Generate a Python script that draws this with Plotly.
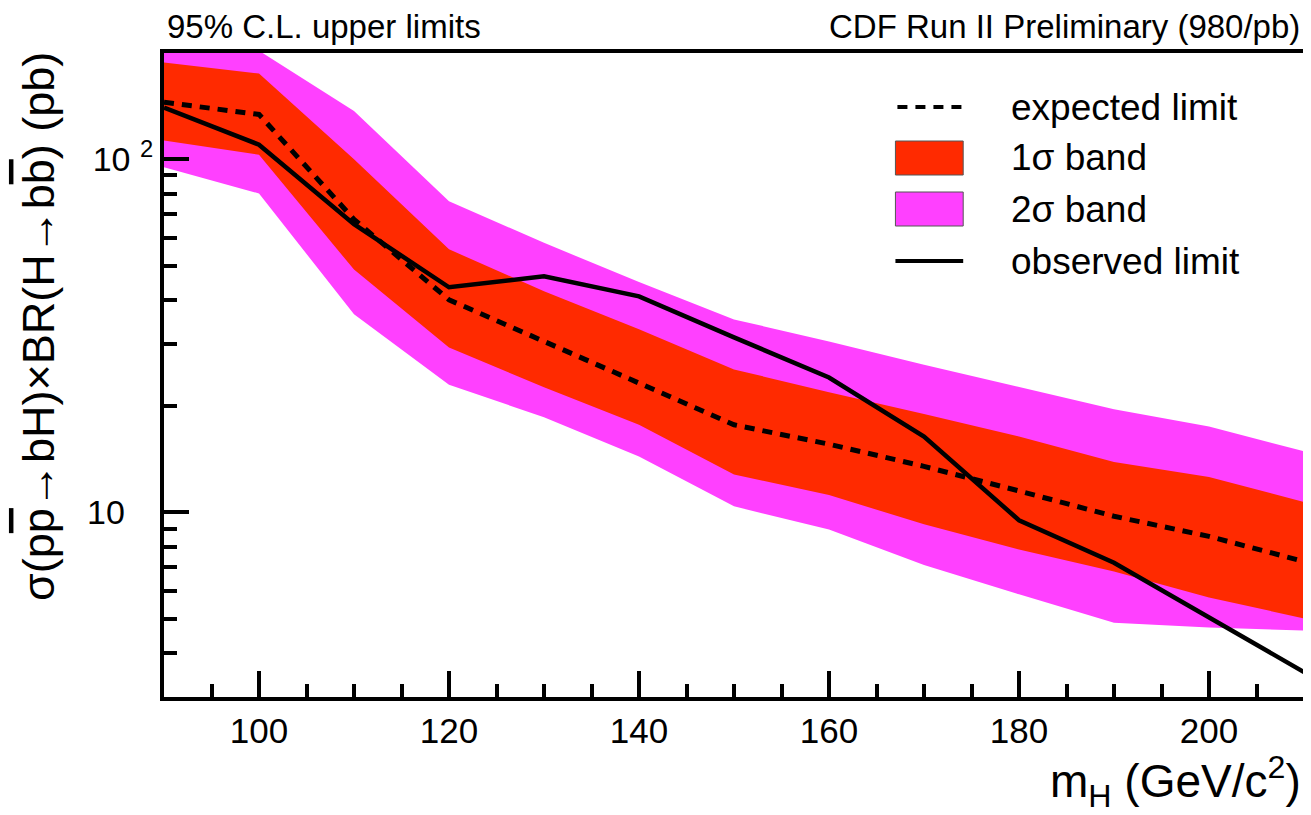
import plotly.graph_objects as go

# ---- data ----
mass = [90, 100, 110, 120, 130, 140, 150, 160, 170, 180, 190, 200, 210]
observed = [140, 110, 65.5, 43.4, 46.6, 40.9, 31.3, 24.1, 16.4, 9.5, 7.2, 5.05, 3.53]
expected = [145, 134, 67.6, 40.0, 30.5, 23.3, 17.7, 15.6, 13.5, 11.5, 9.75, 8.55, 7.26]
sig1_hi = [188, 175, 100, 55.6, 42.3, 33.0, 25.4, 21.9, 19.0, 16.4, 13.9, 12.6, 10.7]
sig1_lo = [113, 103, 48.7, 29.3, 22.6, 17.7, 12.8, 11.2, 9.25, 7.85, 6.8, 5.74, 5.01]
sig2_hi = [215, 203, 137, 76, 58, 44.9, 35.2, 30.5, 26.2, 22.7, 19.6, 17.5, 14.9]
sig2_lo = [95, 80, 36.4, 23.0, 18.6, 14.4, 10.4, 8.95, 7.1, 5.86, 4.87, 4.72, 4.63]

y_tickvals = [10, 100]
y_ticktext = ["10\u00a0\u00a0\u00a0", "10 <sup>2</sup>"]
y_minor = [3, 4, 5, 6, 7, 8, 9, 20, 30, 40, 50, 60, 70, 80, 90, 200]

RED = "#ff2a00"
MAG = "#ff40ff"
FONT = "Liberation Sans, Arial, Helvetica, sans-serif"

fig = go.Figure()
fig.add_trace(go.Scatter(x=mass + mass[::-1], y=sig2_hi + sig2_lo[::-1], fill="toself",
                         fillcolor=MAG, line=dict(width=0), mode="lines", hoverinfo="skip"))
fig.add_trace(go.Scatter(x=mass + mass[::-1], y=sig1_hi + sig1_lo[::-1], fill="toself",
                         fillcolor=RED, line=dict(width=0), mode="lines", hoverinfo="skip"))
fig.add_trace(go.Scatter(x=mass, y=expected, mode="lines",
                         line=dict(color="black", width=5, dash="10px,8px")))
fig.add_trace(go.Scatter(x=mass, y=observed, mode="lines",
                         line=dict(color="black", width=4.5)))

# page has an 8px body margin: figure is 1303x807 so plot area sits at page x 164-1308, y 53-697
fig.update_layout(
    width=1303, height=807,
    margin=dict(l=156, r=3, t=45, b=118),
    paper_bgcolor="white", plot_bgcolor="white",
    showlegend=False,
    font=dict(family=FONT, color="black"),
)
fig.update_xaxes(
    range=[90, 210], showgrid=False, zeroline=False,
    showline=True, linecolor="black", linewidth=4, mirror=True,
    ticks="inside", ticklen=26, tickwidth=3.5, tickcolor="black",
    tick0=100, dtick=20, tickfont=dict(size=35, family=FONT),
    minor=dict(ticks="inside", ticklen=13, tickwidth=3.5, tickcolor="black", dtick=5, tick0=0, showgrid=False),
)
fig.update_yaxes(
    type="log", range=[0.47712, 2.30103], showgrid=False, zeroline=False,
    showline=True, linecolor="black", linewidth=4, mirror=True,
    ticks="inside", ticklen=25, tickwidth=3.5, tickcolor="black",
    tickmode="array", tickvals=y_tickvals, ticktext=y_ticktext,
    tickfont=dict(size=34, family=FONT), ticklabelstandoff=0,
    minor=dict(ticks="inside", ticklen=13, tickwidth=3.5, tickcolor="black",
               tickmode="array", tickvals=y_minor, showgrid=False),
)


def px_x(p):
    return (p - 164) / 1144.0


def px_y(p):
    return (697 - p) / 644.0


annots = [
    dict(text="95% C.L. upper limits", x=px_x(165), y=px_y(27), xanchor="left", yanchor="middle",
         font=dict(size=33)),
    dict(text="CDF Run II Preliminary (980/pb)", x=px_x(1306), y=px_y(27), xanchor="right",
         yanchor="middle", font=dict(size=33)),
    dict(text="m<sub>H</sub> (GeV/c<sup>2</sup>)", x=px_x(1307), y=px_y(781), xanchor="right",
         yanchor="middle", font=dict(size=46)),
    dict(text="σ(p<span style='text-decoration:overline'>p</span>→bH)×BR(H→b<span style='text-decoration:overline'>b</span>) (pb)",
         x=px_x(38), y=px_y(50), textangle=-90, xanchor="center", yanchor="top", font=dict(size=45)),
]

shapes = [
    dict(type="line", xref="paper", yref="paper", x0=px_x(900), x1=px_x(966),
         y0=px_y(107), y1=px_y(107), line=dict(color="black", width=4, dash="10px,8px")),
    dict(type="rect", xref="paper", yref="paper", x0=px_x(898), x1=px_x(966),
         y0=px_y(175), y1=px_y(141), fillcolor=RED, line=dict(color="#555555", width=1)),
    dict(type="rect", xref="paper", yref="paper", x0=px_x(898), x1=px_x(966),
         y0=px_y(226), y1=px_y(192), fillcolor=MAG, line=dict(color="#555555", width=1)),
    dict(type="line", xref="paper", yref="paper", x0=px_x(898), x1=px_x(966),
         y0=px_y(261), y1=px_y(261), line=dict(color="black", width=4)),
]

leg_text = ["expected limit", "1σ band", "2σ band", "observed limit"]
leg_y = [107, 158, 209, 261]
for t, yy in zip(leg_text, leg_y):
    annots.append(dict(text=t, x=px_x(1012), y=px_y(yy), xanchor="left", yanchor="middle",
                       font=dict(size=37)))

for a in annots:
    a["xref"] = "paper"
    a["yref"] = "paper"
    a["showarrow"] = False
fig.update_layout(annotations=annots, shapes=shapes)

fig.write_html("out.html")
